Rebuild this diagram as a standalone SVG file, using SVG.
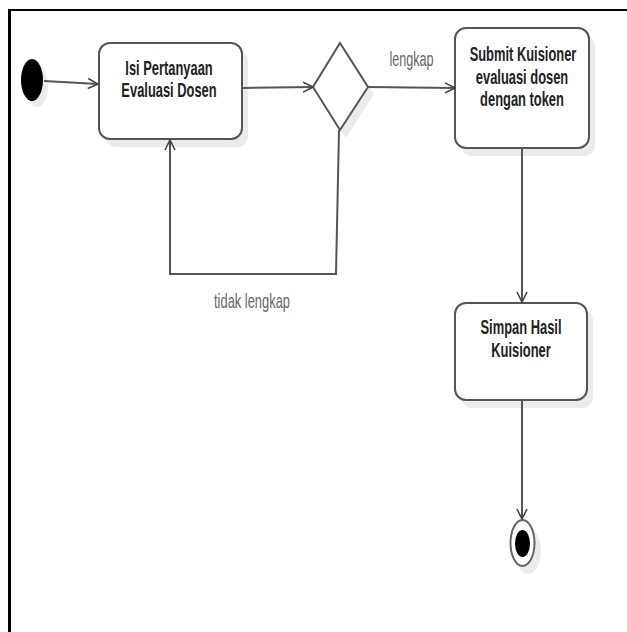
<svg xmlns="http://www.w3.org/2000/svg" width="627" height="632" viewBox="0 0 627 632">
<style>
.box{fill:#fff;stroke:#555;stroke-width:2}
.shadow{fill:#ebebeb;stroke:none}
.conn{fill:none;stroke:#555;stroke-width:2}
.t{font-family:"Liberation Sans",Arial,sans-serif;font-size:20px;font-weight:bold;fill:#222;text-anchor:middle}
.lbl{font-family:"Liberation Sans",Arial,sans-serif;font-size:20px;fill:#666;text-anchor:middle}
</style>
<defs>
<marker id="arr" markerWidth="12" markerHeight="12" refX="11" refY="6" orient="auto" markerUnits="userSpaceOnUse">
<path d="M1,1 L11,6 L1,11" fill="none" stroke="#444" stroke-width="1.6"/>
</marker>
</defs>
<rect width="627" height="632" fill="#fff"/>
<g id="frame">
<line x1="8" y1="10" x2="627" y2="10" stroke="#000" stroke-width="2"/>
<line x1="9.5" y1="9" x2="9.5" y2="632" stroke="#000" stroke-width="3"/>
</g>
<g id="start">
<ellipse class="shadow" cx="37" cy="86" rx="11" ry="21"/>
<ellipse cx="32" cy="80" rx="11" ry="21" fill="#000"/>
</g>
<g id="isi">
<rect class="shadow" x="105" y="50" width="143" height="97" rx="11"/>
<rect class="box" x="99" y="43" width="143" height="96" rx="11"/>
<text class="t" transform="translate(169,75) scale(0.645,1)">Isi Pertanyaan</text>
<text class="t" transform="translate(169,97) scale(0.645,1)">Evaluasi Dosen</text>
</g>
<g id="decision">
<polygon class="shadow" points="346,50 374,94 346,138 318,94"/>
<polygon class="box" points="340,43 368,87 340,130 313,87"/>
</g>
<g id="submit">
<rect class="shadow" x="461" y="35" width="134" height="121" rx="11"/>
<rect class="box" x="455" y="28" width="134" height="120" rx="11"/>
<text class="t" transform="translate(523,61) scale(0.645,1)">Submit Kuisioner</text>
<text class="t" transform="translate(522,84) scale(0.645,1)">evaluasi dosen</text>
<text class="t" transform="translate(522,106) scale(0.645,1)">dengan token</text>
</g>
<g id="simpan">
<rect class="shadow" x="461" y="310" width="132" height="98" rx="11"/>
<rect class="box" x="455" y="303" width="132" height="97" rx="11"/>
<text class="t" transform="translate(521,334) scale(0.645,1)">Simpan Hasil</text>
<text class="t" transform="translate(521,357) scale(0.645,1)">Kuisioner</text>
</g>
<g id="end">
<ellipse class="shadow" cx="528" cy="551" rx="13" ry="23"/>
<ellipse cx="522.5" cy="543" rx="12" ry="23" fill="#fff" stroke="#666" stroke-width="2"/>
<ellipse cx="522.5" cy="543.5" rx="7.5" ry="13.5" fill="#000"/>
</g>
<g id="connectors">
<path class="conn" d="M44,81 L98,84" marker-end="url(#arr)"/>
<path class="conn" d="M242,88 L313,87" marker-end="url(#arr)"/>
<path class="conn" d="M368,87 L455,88" marker-end="url(#arr)"/>
<path class="conn" d="M522,148 L522,302" marker-end="url(#arr)"/>
<path class="conn" d="M522,400 L522,519" marker-end="url(#arr)"/>
<path class="conn" d="M339,130 L336,274 L170,274 L170,140" marker-end="url(#arr)"/>
<text class="lbl" transform="translate(411.5,66) scale(0.63,1)">lengkap</text>
<text class="lbl" transform="translate(252,308) scale(0.645,1)">tidak lengkap</text>
</g>
</svg>
